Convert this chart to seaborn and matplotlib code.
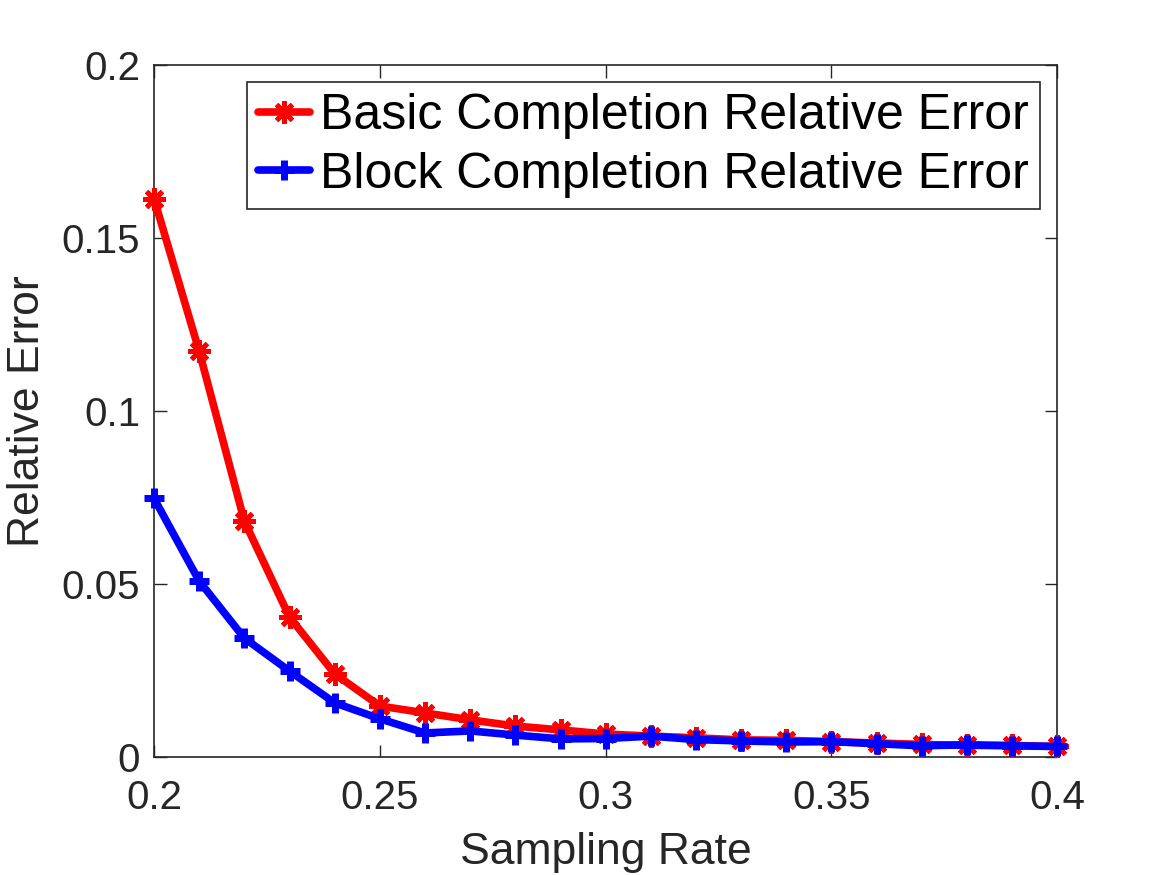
import numpy as np
import pandas as pd
import matplotlib
matplotlib.use("Agg")
import matplotlib.pyplot as plt
import seaborn as sns

sampling_rate = [0.20, 0.21, 0.22, 0.23, 0.24, 0.25, 0.26, 0.27, 0.28, 0.29, 0.30,
                 0.31, 0.32, 0.33, 0.34, 0.35, 0.36, 0.37, 0.38, 0.39, 0.40]
basic_error = [0.1613, 0.1172, 0.0681, 0.0404, 0.0240, 0.0147, 0.0127, 0.0107, 0.0089,
               0.0078, 0.0066, 0.0060, 0.0055, 0.0049, 0.0048, 0.0044, 0.0040, 0.0036,
               0.0033, 0.0033, 0.0030]
block_error = [0.0747, 0.0508, 0.0343, 0.0248, 0.0156, 0.0110, 0.0069, 0.0075, 0.0063,
               0.0052, 0.0053, 0.0060, 0.0050, 0.0046, 0.0043, 0.0044, 0.0038, 0.0032,
               0.0035, 0.0032, 0.0030]
series_names = ["Basic Completion Relative Error", "Block Completion Relative Error"]
x_ticks = [0.2, 0.25, 0.3, 0.35, 0.4]
x_tick_labels = ["0.2", "0.25", "0.3", "0.35", "0.4"]
y_ticks = [0, 0.05, 0.1, 0.15, 0.2]
y_tick_labels = ["0", "0.05", "0.1", "0.15", "0.2"]

df = pd.DataFrame({
    "rate": sampling_rate * 2,
    "error": basic_error + block_error,
    "series": [series_names[0]] * len(sampling_rate) + [series_names[1]] * len(sampling_rate),
})

sns.set_style("white")
plt.rcParams["font.family"] = ["Liberation Sans", "DejaVu Sans"]

fig = plt.figure(figsize=(11.67, 8.75), dpi=100)
ax = fig.add_axes([0.132, 0.135, 0.774, 0.791])

dark = "#262626"
sns.lineplot(data=df[df.series == series_names[0]], x="rate", y="error",
             color="#ff0000", lw=5.5, marker=(8, 2, 0), markersize=16,
             markeredgewidth=3.5, markeredgecolor="#ff0000", ax=ax,
             label=series_names[0], clip_on=False, zorder=3)
sns.lineplot(data=df[df.series == series_names[1]], x="rate", y="error",
             color="#0000ff", lw=5.5, marker="+", markersize=14,
             markeredgewidth=5, markeredgecolor="#0000ff", ax=ax,
             label=series_names[1], clip_on=False, zorder=4)

ax.set_xlim(0.2, 0.4)
ax.set_ylim(0, 0.2)
ax.set_xticks(x_ticks)
ax.set_xticklabels(x_tick_labels)
ax.set_yticks(y_ticks)
ax.set_yticklabels(y_tick_labels)
ax.tick_params(direction="in", length=9, width=1, colors=dark, labelsize=29,
               top=True, right=True, bottom=True, left=True)
ax.tick_params(axis="x", pad=16)
ax.tick_params(axis="y", pad=10)
for s in ax.spines.values():
    s.set_visible(True)
    s.set_color(dark)
    s.set_linewidth(1.2)
ax.set_xlabel("Sampling Rate", fontsize=32, color=dark, labelpad=11)
ax.set_ylabel("Relative Error", fontsize=32, color=dark, labelpad=10)

leg = ax.legend(loc="upper right", fontsize=36, frameon=True, fancybox=False,
                edgecolor=dark, framealpha=1, borderaxespad=0.35,
                handlelength=1.05, handletextpad=0.2, borderpad=0.22,
                labelspacing=0.25)
leg.get_frame().set_linewidth(1.2)
for t in leg.get_texts():
    t.set_color("black")

fig.savefig("out.png", dpi=100, facecolor="white")
